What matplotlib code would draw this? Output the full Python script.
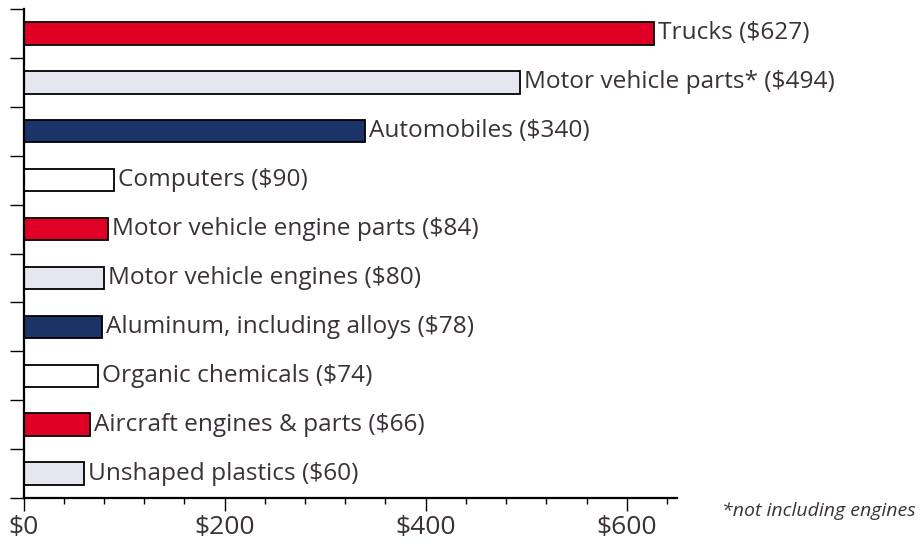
import matplotlib.pyplot as plt
from matplotlib.ticker import MultipleLocator, FuncFormatter

# exports, millions of dollars
names = ['Trucks', 'Motor vehicle parts*', 'Automobiles', 'Computers',
         'Motor vehicle engine parts', 'Motor vehicle engines',
         'Aluminum, including alloys', 'Organic chemicals',
         'Aircraft engines & parts', 'Unshaped plastics']
values = [627, 494, 340, 90, 84, 80, 78, 74, 66, 60]
colors = ['#e00025', '#e6e6f0', '#1b3468', '#ffffff']

plt.rcParams['font.family'] = ['Open Sans', 'DejaVu Sans']
txt = '#3a3238'

fig = plt.figure(figsize=(9.21, 5.46), dpi=100)
ax = fig.add_axes([23.5/921, 1 - 498/546, (677 - 23.5)/921, (498 - 9)/546])

ypos = [i + 0.5 for i in range(len(values))]
barcols = [colors[i % 4] for i in range(len(values))]
ax.barh(ypos, values, height=0.46, color=barcols, edgecolor='black', linewidth=1.3)

for y, v, n in zip(ypos, values, names):
    ax.text(v + 4, y, f'{n} (${v})', va='center', ha='left', fontsize=17.6, color=txt)

ax.set_xlim(0, 650)
ax.set_ylim(len(values), 0)

ax.spines['top'].set_visible(False)
ax.spines['right'].set_visible(False)
ax.spines['left'].set_linewidth(1.6)
ax.spines['bottom'].set_linewidth(1.6)

ax.set_yticks(range(len(values) + 1))
ax.set_yticklabels([])
ax.tick_params(axis='y', direction='out', length=10, width=1)

ax.xaxis.set_major_locator(MultipleLocator(200))
ax.xaxis.set_minor_locator(MultipleLocator(40))
ax.xaxis.set_major_formatter(FuncFormatter(lambda x, p: f'${x:.0f}'))
ax.tick_params(axis='x', which='major', length=9, width=1, labelsize=19,
               labelcolor=txt, pad=3)
ax.tick_params(axis='x', which='minor', length=4.5, width=1)

fig.text(722/921, 1 - 511/546, '*not including engines', fontsize=14,
         style='italic', color=txt, va='center', ha='left')

fig.savefig('out.png', dpi=100)
